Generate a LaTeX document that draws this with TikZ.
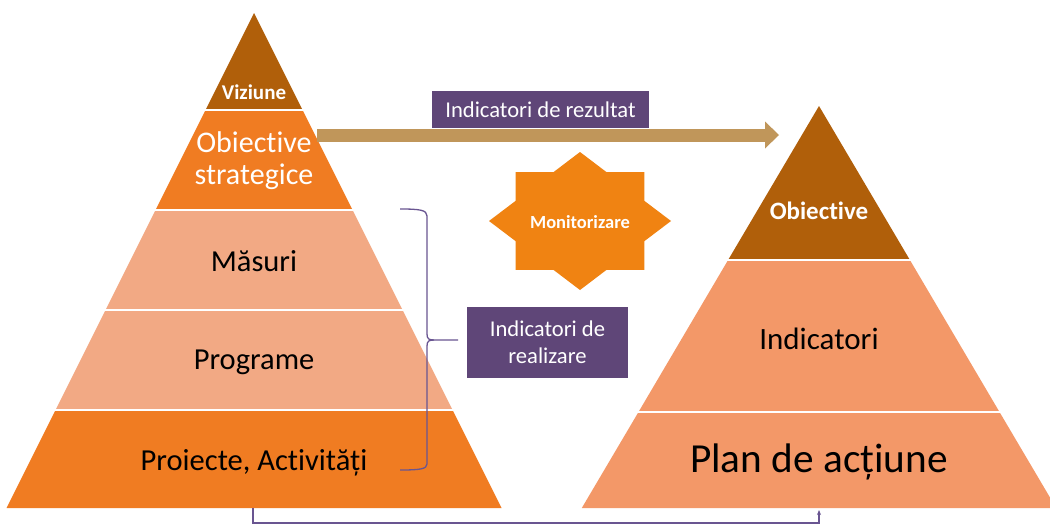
\documentclass[tikz,border=0pt]{standalone}
\usepackage{fontspec}
\setmainfont{Carlito}[Ligatures=NoCommon]
\usetikzlibrary{arrows.meta,calc}
\definecolor{dbrown}{RGB}{176,95,10}
\definecolor{orng}{RGB}{240,124,34}
\definecolor{salmon}{RGB}{242,169,132}
\definecolor{rsalmon}{RGB}{243,152,104}
\definecolor{tanarr}{RGB}{192,150,90}
\definecolor{purp}{RGB}{95,70,120}
\definecolor{starc}{RGB}{240,131,18}
\definecolor{linep}{RGB}{105,85,145}
\begin{document}
\begin{tikzpicture}[x=1pt,y=-1pt,
  lbl/.style={font=\fontsize{30.5}{34}\selectfont, text=black, align=center, inner sep=0pt},
  wlbl/.style={text=white, font=\bfseries\fontsize{21}{24}\selectfont, inner sep=0pt},
  gap/.style={white, line width=1.6pt},
  pbox/.style={fill=purp, text=white, font=\fontsize{22.6}{27}\selectfont, align=center, inner sep=0pt},
  conn/.style={linep, line width=1.2pt}]
\useasboundingbox[fill=white] (0,0) rectangle (1050,525);
% left pyramid
\fill[dbrown] (254,13) -- (302.5,110) -- (205.5,110) -- cycle;
\fill[orng] (205.5,110) -- (302.5,110) -- (352.5,210) -- (155.5,210) -- cycle;
\fill[salmon] (155.5,210) -- (352.5,210) -- (402.5,310) -- (105.5,310) -- cycle;
\fill[salmon] (105.5,310) -- (402.5,310) -- (452.5,410) -- (55.5,410) -- cycle;
\fill[orng] (55.5,410) -- (452.5,410) -- (501.5,508) -- (6.5,508) -- cycle;
\draw[gap] (200,110) -- (308,110);
\draw[gap] (150,210) -- (358,210);
\draw[gap] (100,310) -- (408,310);
\draw[gap] (50,410) -- (458,410);
% right pyramid
\fill[dbrown] (819,106) -- (909.9,260) -- (728.1,260) -- cycle;
\fill[rsalmon] (728.1,260) -- (909.9,260) -- (999.5,412) -- (638.5,412) -- cycle;
\fill[rsalmon] (638.5,412) -- (999.5,412) -- (1056.2,508) -- (581.8,508) -- cycle;
\draw[gap] (724,260) -- (914,260);
\draw[gap] (634,412) -- (1004,412);
% labels in pyramids
\node[wlbl, anchor=base] (viz) at (254,99) {Viziune};
\node[lbl, text=white, font=\fontsize{30}{32}\selectfont] (obs) at (254,161) {Obiec\kern0pt tive\\strategice};
\node[lbl, anchor=base] (mas) at (254,271) {Măsuri};
\node[lbl, anchor=base] (prog) at (254,369) {Programe};
\node[lbl, anchor=base] (proi) at (254,470) {Proiecte, Activități};
\node[wlbl, font=\bfseries\fontsize{25}{28}\selectfont, anchor=base] (obj) at (819,219) {Obiec\kern0pt tive};
\node[lbl, font=\fontsize{31}{34}\selectfont, anchor=base] (ind) at (819,349) {Indicatori};
\node[lbl, font=\fontsize{41.3}{45}\selectfont, anchor=base] (plan) at (819,472) {Plan de acțiune};
% big arrow
\coordinate (aS) at (317,135);
\coordinate (aE) at (779,135);
\draw[tanarr, line width=13pt, -{Triangle[length=14pt 0 0, width=27pt 0 0, line width=0pt]}] (aS) -- (aE);
\node[pbox, minimum width=217pt, minimum height=37pt] (rez) at (540.5,109.5) {Indicatori de rezultat};
% star
\fill[starc] (671,221) -- (644.3,200.8) -- (644.3,172.2) -- (606.6,172.2) -- (580,152)
  -- (553.4,172.2) -- (515.7,172.2) -- (515.7,200.8) -- (489,221) -- (515.7,241.2)
  -- (515.7,269.8) -- (553.4,269.8) -- (580,290) -- (606.6,269.8) -- (644.3,269.8)
  -- (644.3,241.2) -- cycle;
\node[wlbl, font=\bfseries\fontsize{18.5}{21}\selectfont, anchor=base] (mon) at (580,228) {Monitorizare};
% brace
\coordinate (btip) at (458,340);
\node[pbox, minimum width=161pt, minimum height=71pt] (real) at (547.5,342.5) {Indicatori de\\realizare};
\draw[conn, line width=1.3pt] (400,209) .. controls (420,209) and (427,210) .. (427,216) -- (427,334)
  .. controls (427,339) and (429,340) .. (434,340) -- (btip);
\draw[conn, line width=1.3pt] (434,340) .. controls (429,340) and (427,341) .. (427,346) -- (427,464)
  .. controls (427,469) and (420,470) .. (400,470);
% bottom connector
\coordinate (lb) at (253,508);
\coordinate (rb) at (819,510);
\draw[conn, -{Stealth[length=5pt,width=4pt]}] (lb) -- ++(0,15) -| (rb);
\end{tikzpicture}
\end{document}
